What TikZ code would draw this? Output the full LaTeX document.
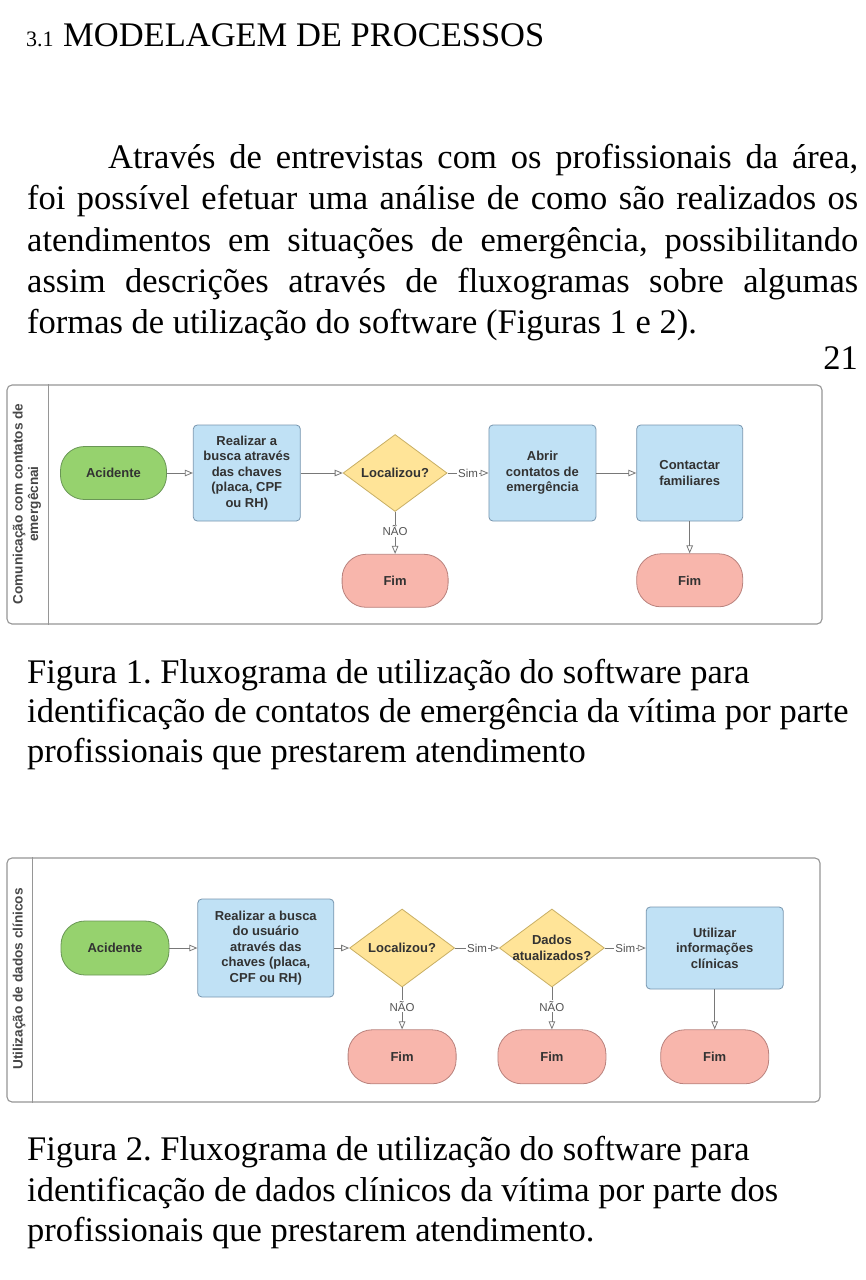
\documentclass[tikz,border=0pt]{standalone}
\usepackage{fontspec}
\setmainfont{Liberation Serif}
\setsansfont{Liberation Sans}
\usetikzlibrary{arrows.meta,positioning,shapes.geometric}
\frenchspacing
\definecolor{softgreen}{RGB}{150,210,110}
\definecolor{edgegreen}{RGB}{105,150,85}
\definecolor{softblue}{RGB}{192,225,245}
\definecolor{edgeblue}{RGB}{120,150,175}
\definecolor{softyellow}{RGB}{255,228,152}
\definecolor{edgeyellow}{RGB}{200,175,100}
\definecolor{softred}{RGB}{248,182,172}
\definecolor{edgered}{RGB}{185,130,125}
\definecolor{ink}{RGB}{50,50,50}
\definecolor{wire}{RGB}{120,120,120}
\definecolor{lanegray}{RGB}{150,150,150}

\begin{document}
\begin{tikzpicture}[x=1pt,y=-1pt,every node/.style={inner sep=0pt},
    page/.style={font=\fontsize{34.5}{41}\selectfont,anchor=base west},
    flow/.style={font=\sffamily\bfseries\fontsize{13}{15.5}\selectfont,text=ink,align=center},
    lanetitle/.style={flow,font=\sffamily\bfseries\fontsize{13.6}{15.5}\selectfont,text=ink!90,rotate=90},
    term/.style={flow,draw=edgered,fill=softred,rounded corners=24pt,minimum width=106pt,minimum height=53pt,line width=0.8pt},
    start/.style={term,draw=edgegreen,fill=softgreen},
    proc/.style={flow,draw=edgeblue,fill=softblue,rounded corners=4pt,line width=0.8pt},
    dec/.style={diamond,draw=edgeyellow,fill=softyellow,minimum width=104pt,minimum height=77pt,line width=0.8pt},
    tag/.style={font=\sffamily\fontsize{11.5}{12}\selectfont,text=wire!70!black,fill=white,inner sep=1pt},
    link/.style={draw=wire,line width=0.8pt,-{Triangle[open,length=8pt,width=6.5pt]}},
    pool/.style={draw=lanegray,line width=1.1pt,rounded corners=5pt}]
  \path[use as bounding box,fill=white] (0,0) rectangle (865,1280);

  % heading and text
  \node[page,font=\fontsize{22}{22}\selectfont] (secnum) at (26,46) {3.1};
  \node[page] (sec) at (63,46) {MODELAGEM DE PROCESSOS};
  \node[page] (p1) at (108,168) {\makebox[750pt][s]{Através de entrevistas com os profissionais da área,}};
  \node[page] (p2) at (27,209) {\makebox[831pt][s]{foi possível efetuar uma análise de como são realizados os}};
  \node[page] (p3) at (27,251) {\makebox[831pt][s]{atendimentos em situações de emergência, possibilitando}};
  \node[page] (p4) at (27,292) {\makebox[831pt][s]{assim descrições através de fluxogramas sobre algumas}};
  \node[page] (p5) at (27,333) {formas de utilização do software (Figuras 1 e 2).};
  \node[page,anchor=base east] (folio) at (858,369) {21};

  % figura 1
  \node[pool,minimum width=815pt,minimum height=239pt] (pool1) at (414.5,504.5) {};
  \draw[draw=lanegray,line width=1.1pt] ([xshift=42pt]pool1.north west) -- ([xshift=42pt]pool1.south west);
  \node[lanetitle] (lane1) at (27,504) {Comunicação com contatos de\\emergêcnai};
  \node[start] (acid1) at (113.5,473) {Acidente};
  \node[proc,minimum width=107pt,minimum height=96pt,right=26pt of acid1] (busca1)
    {Realizar a\\busca através\\das chaves\\(placa, CPF\\ou RH)};
  \node[dec,right=42pt of busca1,label={[flow]center:Localizou?}] (loc1) {};
  \node[proc,minimum width=107pt,minimum height=96pt,right=41pt of loc1] (abrir1)
    {Abrir\\contatos de\\emergência};
  \node[proc,minimum width=106pt,minimum height=96pt,right=40pt of abrir1] (contato1)
    {Contactar\\familiares};
  \node[term,below=42pt of loc1] (fim1) {Fim};
  \node[term,below=32pt of contato1] (fim2) {Fim};
  \draw[link] (acid1) -- (busca1);
  \draw[link] (busca1) -- (loc1);
  \draw[link] (loc1) -- node[tag]{Sim} (abrir1);
  \draw[link] (loc1) -- node[tag,pos=0.45]{NÃO} (fim1);
  \draw[link] (abrir1) -- (contato1);
  \draw[link] (contato1) -- (fim2);

  \node[page] (cap1a) at (27,683) {Figura 1. Fluxograma de utilização do software para};
  \node[page] (cap1b) at (27,722) {identificação de contatos de emergência da vítima por parte};
  \node[page] (cap1c) at (27,762) {profissionais que prestarem atendimento};

  % figura 2
  \node[pool,minimum width=813pt,minimum height=244pt] (pool2) at (413.5,980) {};
  \draw[draw=lanegray,line width=1.1pt] ([xshift=26pt]pool2.north west) -- ([xshift=26pt]pool2.south west);
  \node[lanetitle] (lane2) at (19,979) {Utilização de dados clínicos};
  \node[start,minimum width=108pt,minimum height=54pt] (acid2) at (115,948) {Acidente};
  \node[proc,minimum width=136pt,minimum height=98pt,right=28pt of acid2] (busca2)
    {Realizar a busca\\do usuário\\através das\\chaves (placa,\\CPF ou RH)};
  \node[dec,minimum width=105pt,minimum height=78pt,right=15pt of busca2,label={[flow]center:Localizou?}] (loc2) {};
  \node[dec,minimum width=105pt,minimum height=78pt,right=44pt of loc2,label={[flow]center:Dados\\atualizados?}] (dados2) {};
  \node[proc,minimum width=137pt,minimum height=82pt,right=41pt of dados2] (util2)
    {Utilizar\\informações\\clínicas};
  \node[term,minimum width=108pt,minimum height=54pt,below=42pt of loc2] (fim3) {Fim};
  \node[term,minimum width=108pt,minimum height=54pt,below=42pt of dados2] (fim4) {Fim};
  \node[term,minimum width=108pt,minimum height=54pt,below=40pt of util2] (fim5) {Fim};
  \draw[link] (acid2) -- (busca2);
  \draw[link] (busca2) -- (loc2);
  \draw[link] (loc2) -- node[tag]{Sim} (dados2);
  \draw[link] (dados2) -- node[tag]{Sim} (util2);
  \draw[link] (loc2) -- node[tag,pos=0.45]{NÃO} (fim3);
  \draw[link] (dados2) -- node[tag,pos=0.45]{NÃO} (fim4);
  \draw[link] (util2) -- (fim5);

  \node[page] (cap2a) at (27,1160) {Figura 2. Fluxograma de utilização do software para};
  \node[page] (cap2b) at (27,1201) {identificação de dados clínicos da vítima por parte dos};
  \node[page] (cap2c) at (27,1241) {profissionais que prestarem atendimento.};
\end{tikzpicture}
\end{document}
